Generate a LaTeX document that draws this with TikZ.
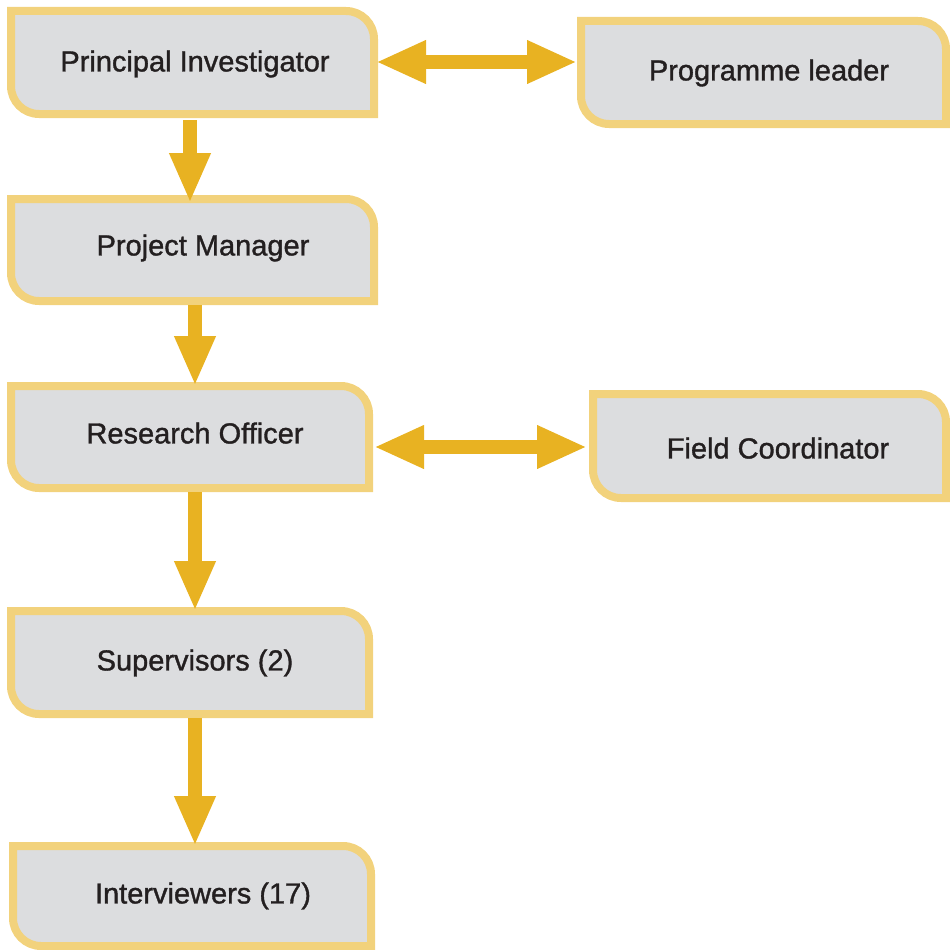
\documentclass[tikz,border=0pt]{standalone}
\usepackage{fontspec}
\setmainfont{Liberation Sans}
\newfontfamily\lblfont{Liberation Sans}[FakeBold=1.2]
\usetikzlibrary{arrows.meta}
\definecolor{boxborder}{HTML}{F2D27C}
\definecolor{boxfill}{HTML}{DCDDDF}
\definecolor{arrowgold}{HTML}{E8B222}
\definecolor{txt}{HTML}{231F20}
\tikzset{
  boxshape/.style={draw=boxborder, fill=boxfill, line width=8pt, line join=miter},
  anchorbox/.style={draw=none, inner sep=0pt, outer sep=0pt},
  lbl/.style={text=txt, inner sep=0pt, text height=20.9pt, text depth=0pt,
    font=\lblfont\fontsize{29}{34}\selectfont},
  flow/.style={draw=arrowgold, line width=14pt,
    -{Triangle[length=50pt,width=38pt]}},
  both/.style={draw=arrowgold, line width=14pt,
    {Triangle[length=50pt,width=40pt]}-{Triangle[length=50pt,width=40pt]}},
}
% #1 name, #2 x1, #3 y1, #4 x2, #5 y2
\newcommand\yellowbox[5]{%
  \path[boxshape] (#2,#3) -- ({#4-28},#3) arc[start angle=-90,end angle=0,radius=28]
    -- (#4,#5) -- ({#2+28},#5) arc[start angle=90,end angle=180,radius=28] -- cycle;
  \node[anchorbox, minimum width={(#4-#2)*1pt}, minimum height={(#5-#3)*1pt}]
    (#1) at ({(#2+#4)/2},{(#3+#5)/2}) {};
}
\begin{document}
\begin{tikzpicture}[x=1pt,y=-1pt]
\useasboundingbox (0,0) rectangle (950,950);

\yellowbox{pi}{11}{11}{374}{114}
\yellowbox{pl}{581}{21}{946}{124}
\yellowbox{pm}{11}{199}{374}{301}
\yellowbox{ro}{11}{386}{369}{488}
\yellowbox{fc}{593}{394}{946}{498}
\yellowbox{sup}{11}{611}{369}{714}
\yellowbox{int}{13}{846}{371}{946}

\node[lbl] (pit) at (195,61) {Principal Investigator};
\node[lbl] (plt) at (769,70) {Programme leader};
\node[lbl] (pmt) at (203,245) {Project Manager};
\node[lbl] (rot) at (195,433) {Research Officer};
\node[lbl] (fct) at (778,448) {Field Coordinator};
\node[lbl] (supt) at (195,660) {Supervisors (2)};
\node[lbl] (intt) at (203,893) {Interviewers (17)};

\draw[flow, shorten <=6pt, shorten >=-4pt] ([xshift=-2.5pt]pi.south) -- ([xshift=-2.5pt]pi.south |- pm.north);
\draw[flow, shorten <=4pt] ([xshift=2.5pt]pm.south) -- ([xshift=2.5pt]pm.south |- ro.north);
\draw[flow, shorten <=4pt] ([xshift=5pt]ro.south) -- ([xshift=5pt]ro.south |- sup.north);
\draw[flow, shorten <=4pt] ([xshift=5pt]sup.south) -- ([xshift=5pt]sup.south |- int.north);

\draw[both, shorten <=2pt, shorten >=4pt] ([yshift=0.5pt]pi.east) -- ([yshift=0.5pt]pi.east -| pl.west);
\draw[both, shorten <=5pt, shorten >=6pt] ([yshift=-1pt]fc.west -| ro.east) -- ([yshift=-1pt]fc.west);
\end{tikzpicture}
\end{document}
